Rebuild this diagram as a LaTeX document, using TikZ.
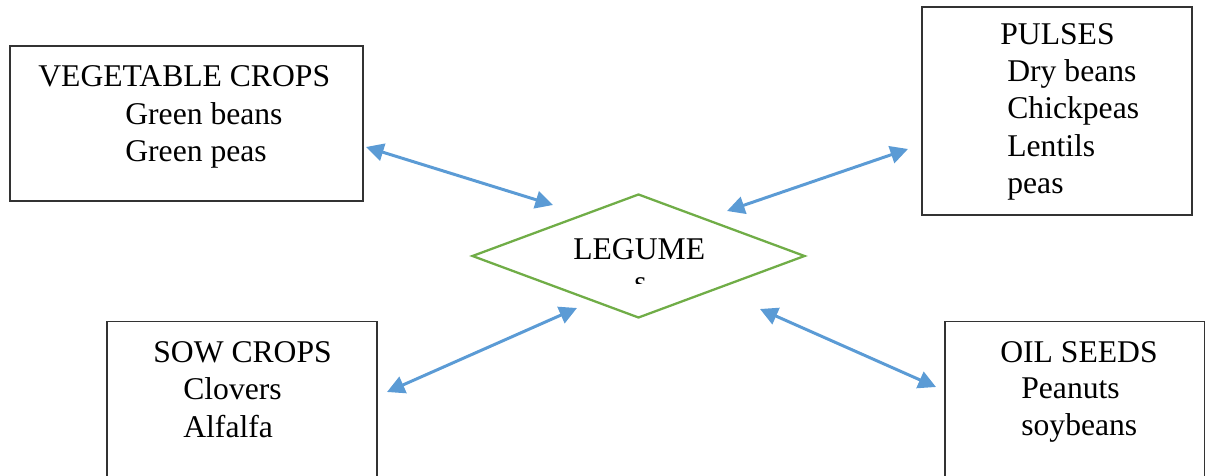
\documentclass[tikz,border=0pt]{standalone}
\usepackage{fontspec}
\setmainfont{Liberation Serif}
\usetikzlibrary{arrows.meta, shapes.geometric, positioning}
\definecolor{arrowblue}{HTML}{5B9BD5}
\definecolor{leafgreen}{HTML}{70AD47}

\begin{document}
\begin{tikzpicture}[x=0.02cm, y=-0.02cm,
        box/.style={draw=black!80, line width=0.7pt, rectangle, inner sep=0pt},
        txt/.style={anchor=base west, inner sep=0pt, font=\fontsize{18}{21.6}\selectfont},
        link/.style={arrowblue, line width=1.7pt, {Triangle[length=10pt,width=10pt]}-{Triangle[length=10pt,width=10pt]}}]

        \useasboundingbox (0,0) rectangle (1205,476);

        % boxes
        \node[box, minimum width=7.06cm, minimum height=3.1cm] (V) at (186.5,123.5) {};
        \node[box, minimum width=5.4cm, minimum height=4.16cm] (P) at (1057,111) {};
        \node[box, minimum width=5.4cm, minimum height=3.5cm] (S) at (242,409) {};
        \node[box, minimum width=5.2cm, minimum height=3.5cm] (O) at (1075,409) {};
        \node[draw=leafgreen, line width=1.3pt, diamond, inner sep=0pt, minimum width=6.66cm, minimum height=2.48cm] (L) at (638.5,256) {};

        % texts
        \node[txt] (V0) at (38,87) {VEGETABLE CROPS};
        \node[txt] (V1) at (125,125) {Green beans};
        \node[txt] (V2) at (125,162) {Green peas};

        \node[txt] (P0) at (1000,45) {PULSES};
        \node[txt] (P1) at (1007,82) {Dry beans};
        \node[txt] (P2) at (1007,119) {Chickpeas};
        \node[txt] (P3) at (1007,157) {Lentils};
        \node[txt] (P4) at (1007,194) {peas};

        \node[txt] (S0) at (153,363) {SOW CROPS};
        \node[txt] (S1) at (183,400) {Clovers};
        \node[txt] (S2) at (183,438) {Alfalfa};

        \node[txt] (O0) at (1000,363) {OIL SEEDS};
        \node[txt] (O1) at (1021,399) {Peanuts};
        \node[txt] (O2) at (1021,436) {soybeans};

        \node[txt] (L0) at (573,260) {LEGUME};
        \begin{scope}
            \clip (600,270) rectangle (680,284);
            \node[txt] (L1) at (634,293) {s};
        \end{scope}

        % arrow ends
        \coordinate (v1) at (366,147);
        \coordinate (v2) at (553,205);
        \coordinate (p1) at (908,149);
        \coordinate (p2) at (727,211);
        \coordinate (s1) at (387,392);
        \coordinate (s2) at (577,308);
        \coordinate (o1) at (936,387);
        \coordinate (o2) at (760,309);

        \draw[link] (v1) -- (v2);
        \draw[link] (p1) -- (p2);
        \draw[link] (s1) -- (s2);
        \draw[link] (o1) -- (o2);

    \end{tikzpicture}
\end{document}
